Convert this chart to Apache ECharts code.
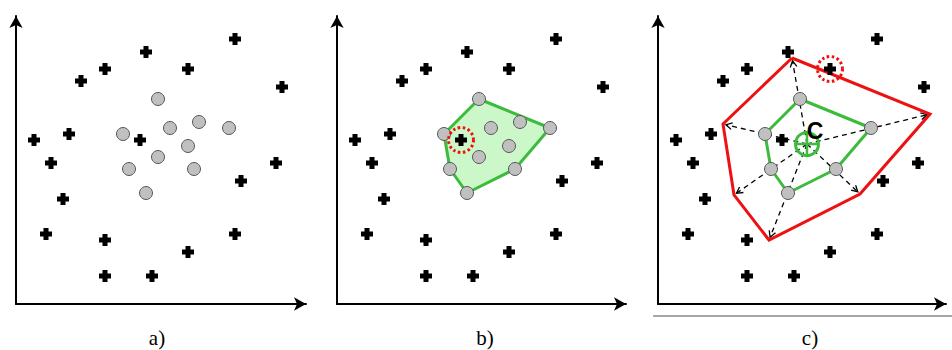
<!DOCTYPE html>
<html><head><meta charset="utf-8">
<script src="https://cdn.jsdelivr.net/npm/echarts@6/dist/echarts.min.js"></script>
<style>html,body{margin:0;padding:0;background:#fff}#chart{width:952px;height:350px}</style>
</head><body><div id="chart"></div>
<script>
// Panel captions
const panelLabels = ['a)', 'b)', 'c)'];
// Black "+" points (same in every panel)
const plusPoints = [[219,265],[130,252],[89,235],[172,235],[65,223],[266,217],[53,170],[18,164],[124,164],[35,141],[260,141],[225,123],[47,105],[30,70],[219,70],[89,64],[172,52],[89,28],[136,28]];
// Grey circle points
const circlePoints = [[142,205],[154,176],[183,182],[213,176],[107,170],[172,158],[142,147],[113,135],[178,135],[130,111]];
// Convex hull of the circles (in order)
const hullPoints = [[142,205],[213,176],[178,135],[130,111],[113,135],[107,170]];
// Expanded (red) polygon vertices
const expandedPoints = [[134,246],[272,190],[202,110],[111,64],[76,109],[65,180]];
// Centroid
const centroidPoint = [[149,160]];
const centroidLabel = [[157,173,'C']];
// Highlighted "+" points
const selectedB = [[124,164]];
const selectedC = [[172,235]];

const GREEN = '#3cbb3c', RED = '#ee1111';
const PLUS = 'path://M3.5,0H8.5V3.5H12V8.5H8.5V12H3.5V8.5H0V3.5H3.5Z';

const panels = [
  {left: 16, width: 290, labelX: 157},
  {left: 337, width: 289, labelX: 485},
  {left: 658, width: 288, labelX: 810}
];
const H = 288;

const grid = panels.map(p => ({left: p.left, top: 16, width: p.width, height: H}));
const axisCommon = {
  type: 'value', min: 0,
  axisLine: {show: true, onZero: false, symbol: ['none', 'arrow'], symbolSize: [10, 12], lineStyle: {color: '#000', width: 2}},
  axisTick: {show: false}, axisLabel: {show: false}, splitLine: {show: false}
};
const xAxis = panels.map((p, i) => Object.assign({}, axisCommon, {gridIndex: i, max: p.width}));
const yAxis = panels.map((p, i) => Object.assign({}, axisCommon, {gridIndex: i, max: H}));

function plusSeries(i) {
  return {type: 'scatter', xAxisIndex: i, yAxisIndex: i, data: plusPoints, symbol: PLUS, symbolSize: 12,
    itemStyle: {color: '#000', opacity: 1}, z: 6, silent: true};
}
function circleSeries(i, data) {
  return {type: 'scatter', xAxisIndex: i, yAxisIndex: i, data: data, symbol: 'circle', symbolSize: 13,
    itemStyle: {color: '#c0c0c0', borderColor: '#555', borderWidth: 1, opacity: 1}, z: 5, silent: true};
}
function dottedSeries(i, data) {
  return {type: 'scatter', xAxisIndex: i, yAxisIndex: i, data: data, symbol: 'circle', symbolSize: 25,
    itemStyle: {color: 'rgba(0,0,0,0)', borderColor: RED, borderWidth: 3, borderType: [2.5, 2.5], opacity: 1}, z: 7, silent: true};
}

const series = [
  // panel a
  plusSeries(0),
  circleSeries(0, circlePoints),
  // panel b
  {type: 'custom', xAxisIndex: 1, yAxisIndex: 1, data: hullPoints, z: 2, silent: true,
    renderItem: (params, api) => {
      if (params.dataIndex !== 0) return;
      const pts = hullPoints.map(p => api.coord(p));
      return {type: 'polygon', shape: {points: pts}, style: {fill: '#ccf7c8', stroke: GREEN, lineWidth: 3, lineJoin: 'round'}};
    }},
  plusSeries(1),
  circleSeries(1, circlePoints),
  dottedSeries(1, selectedB),
  // panel c
  {type: 'custom', xAxisIndex: 2, yAxisIndex: 2, data: expandedPoints, z: 1, silent: true,
    renderItem: (params, api) => {
      const s = api.coord(centroidPoint[0]);
      const e = api.coord([api.value(0), api.value(1)]);
      const dx = e[0] - s[0], dy = e[1] - s[1];
      const len = Math.sqrt(dx * dx + dy * dy);
      const ux = dx / len, uy = dy / len;
      const tip = [e[0] - ux * 3, e[1] - uy * 3];
      const a = 7, ang = 0.5;
      const c1 = [tip[0] - a * (ux * Math.cos(ang) - uy * Math.sin(ang)), tip[1] - a * (uy * Math.cos(ang) + ux * Math.sin(ang))];
      const c2 = [tip[0] - a * (ux * Math.cos(ang) + uy * Math.sin(ang)), tip[1] - a * (uy * Math.cos(ang) - ux * Math.sin(ang))];
      return {type: 'group', children: [
        {type: 'line', shape: {x1: s[0], y1: s[1], x2: tip[0], y2: tip[1]}, style: {stroke: '#000', lineWidth: 1.3, lineDash: [5, 4]}},
        {type: 'polyline', shape: {points: [c1, tip, c2]}, style: {stroke: '#000', lineWidth: 1.3, fill: null}}
      ]};
    }},
  {type: 'line', xAxisIndex: 2, yAxisIndex: 2, data: expandedPoints.concat([expandedPoints[0]]), symbol: 'none',
    lineStyle: {color: RED, width: 3, join: 'miter'}, z: 3, silent: true},
  {type: 'line', xAxisIndex: 2, yAxisIndex: 2, data: hullPoints.concat([hullPoints[0]]), symbol: 'none',
    lineStyle: {color: GREEN, width: 3}, z: 4, silent: true},
  plusSeries(2),
  circleSeries(2, hullPoints),
  dottedSeries(2, selectedC),
  {type: 'custom', xAxisIndex: 2, yAxisIndex: 2, data: centroidPoint, z: 8, silent: true,
    renderItem: (params, api) => {
      const c = api.coord([api.value(0), api.value(1)]);
      const r = 11.5;
      return {type: 'group', children: [
        {type: 'circle', shape: {cx: c[0], cy: c[1], r: r}, style: {stroke: GREEN, lineWidth: 3, fill: null}},
        {type: 'line', shape: {x1: c[0] - r, y1: c[1], x2: c[0] + r, y2: c[1]}, style: {stroke: GREEN, lineWidth: 2.5}},
        {type: 'line', shape: {x1: c[0], y1: c[1] - r, x2: c[0], y2: c[1] + r}, style: {stroke: GREEN, lineWidth: 2.5}}
      ]};
    }},
  {type: 'custom', xAxisIndex: 2, yAxisIndex: 2, data: centroidLabel, z: 9, silent: true,
    renderItem: (params, api) => {
      const c = api.coord([api.value(0), api.value(1)]);
      return {type: 'text', x: c[0], y: c[1], style: {text: centroidLabel[params.dataIndex][2], fill: '#000',
        font: 'bold 23px "Liberation Sans", Arial, sans-serif', align: 'center', verticalAlign: 'middle'}};
    }}
];

const graphic = panels.map((p, i) => ({
  type: 'text', x: p.labelX, y: 338,
  style: {text: panelLabels[i], fill: '#000', font: '21px "Liberation Serif", "Times New Roman", serif', align: 'center', verticalAlign: 'middle'}
}));
graphic.push({type: 'line', shape: {x1: 653, y1: 316, x2: 952, y2: 316}, style: {stroke: '#8a8a8a', lineWidth: 1.5}});

const chart = echarts.init(document.getElementById('chart'), null, {renderer: 'svg'});
chart.setOption({animation: false, grid, xAxis, yAxis, series, graphic});
</script>
</body></html>
